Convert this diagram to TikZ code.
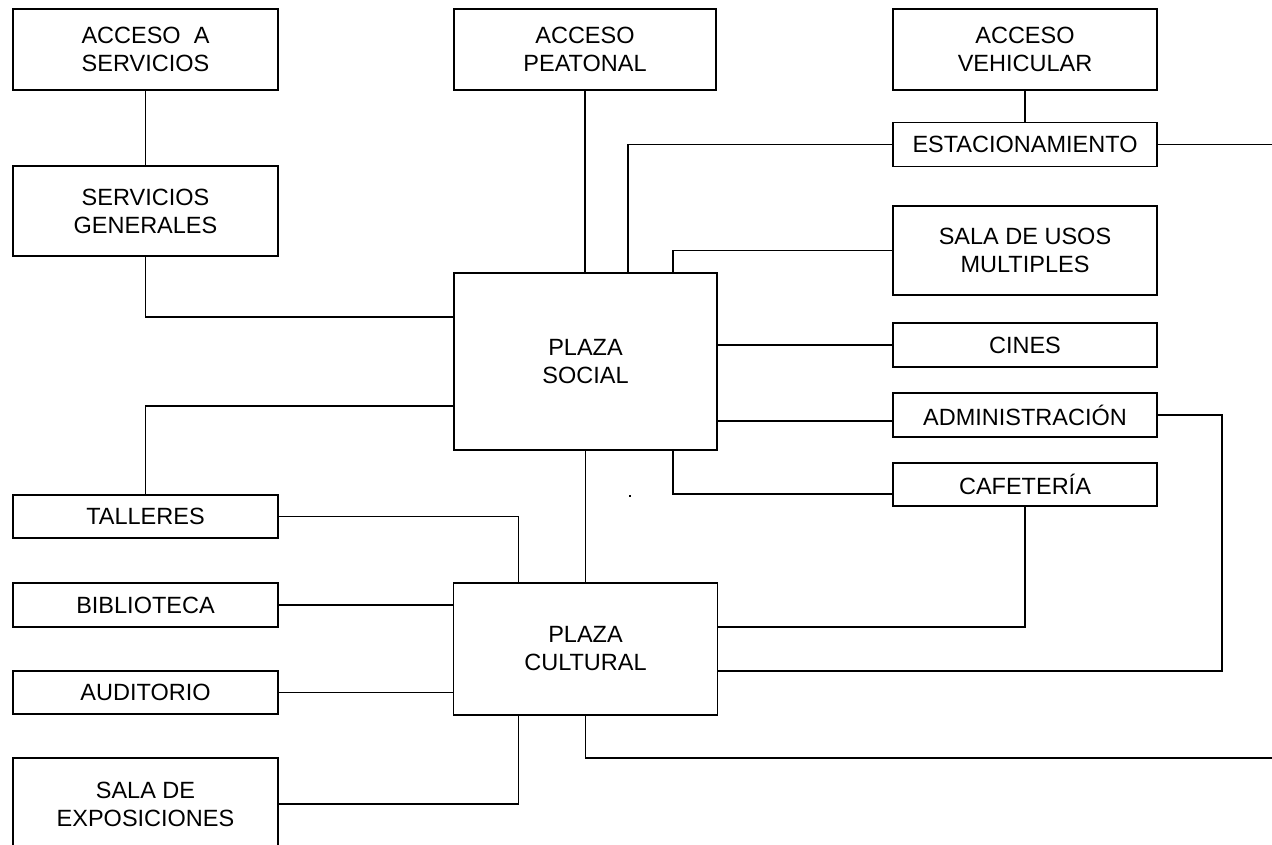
\documentclass[tikz,border=0pt]{standalone}
\usepackage{fontspec}
\setmainfont{Liberation Sans}
\begin{document}
\begin{tikzpicture}[x=1pt,y=-1pt,
  box/.style={draw, line width=1.6pt, inner sep=0pt, outer sep=0pt, align=center,
    font=\fontsize{23.5}{28}\selectfont},
  conn/.style={line width=1.6pt}]
\useasboundingbox (0,0) rectangle (1272,844);
% boxes
\node[box, minimum width=265pt, minimum height=81pt] (as) at (145.5,49.5) {ACCESO\ \ A\\SERVICIOS};
\node[box, minimum width=262pt, minimum height=81pt] (ap) at (585,49.5) {ACCESO\\PEATONAL};
\node[box, minimum width=264pt, minimum height=81pt] (av) at (1025,49.5) {ACCESO\\VEHICULAR};
\node[box, minimum width=264pt, minimum height=44pt] (est) at (1025,144.5) {ESTACIONAMIENTO};
\node[box, minimum width=265pt, minimum height=90pt] (sg) at (145.5,211) {SERVICIOS\\GENERALES};
\node[box, minimum width=264pt, minimum height=89pt] (sum) at (1025,250.5) {SALA DE USOS\\MULTIPLES};
\node[box, minimum width=263pt, minimum height=177pt] (ps) at (585.5,361.5) {PLAZA\\SOCIAL};
\node[box, minimum width=264pt, minimum height=44pt] (cines) at (1025,345) {CINES};
\node[box, minimum width=264pt, minimum height=44pt] (adm) at (1025,415) {ADMINISTRACIÓN};
\node[box, minimum width=264pt, minimum height=43pt] (caf) at (1025,484.5) {CAFETERÍA};
\node[box, minimum width=265pt, minimum height=43pt] (tall) at (145.5,516.5) {TALLERES};
\node[box, minimum width=264pt, minimum height=132pt] (pc) at (585.5,649) {PLAZA\\CULTURAL};
\node[box, minimum width=265pt, minimum height=44pt] (bib) at (145.5,605) {BIBLIOTECA};
\node[box, minimum width=265pt, minimum height=43pt] (aud) at (145.5,692.5) {AUDITORIO};
\node[box, minimum width=265pt, minimum height=92pt] (sde) at (145.5,804) {SALA DE\\EXPOSICIONES};
% free ends
\coordinate (eR) at (1272,144.5);
\coordinate (bR) at (1272,758);
\coordinate (admL) at ([yshift=-6pt]adm.west);
% connectors
\draw[conn] (as.south) -- (sg.north);
\draw[conn] (ap.south) -- (ap.south |- ps.north);
\draw[conn] (av.south) -- (est.north);
\draw[conn] (est.east) -- (eR);
\draw[conn] (est.west) -| ([xshift=174pt]ps.north west);
\draw[conn] (sum.west) -| ([xshift=219pt]ps.north west);
\draw[conn] (sg.south) |- ([yshift=-44pt]ps.north west);
\draw[conn] (cines.west) -- (cines.west -| ps.east);
\draw[conn] (admL) -- (admL -| ps.east);
\draw[conn] ([yshift=-9.5pt]caf.west) -| ([xshift=219pt]ps.south west);
\draw[conn] ([yshift=-133pt]ps.north west) -| (tall.north);
\draw[conn] (tall.east) -| ([xshift=65pt]pc.north west);
\draw[conn] (ps.south) -- (pc.north);
\draw[conn] (bib.east) -- (bib.east -| pc.west);
\draw[conn] (aud.east) -- (aud.east -| pc.west);
\draw[conn] (sde.east) -| ([xshift=65pt]pc.south west);
\draw[conn] (pc.south) |- (bR);
\draw[conn] (caf.south) |- ([yshift=-44pt]pc.north east);
\draw[conn] (adm.east) -- ++(65,0) |- ([yshift=-88pt]pc.north east);
% stray dot
\fill (629,495) rectangle (631,497);
\end{tikzpicture}
\end{document}
